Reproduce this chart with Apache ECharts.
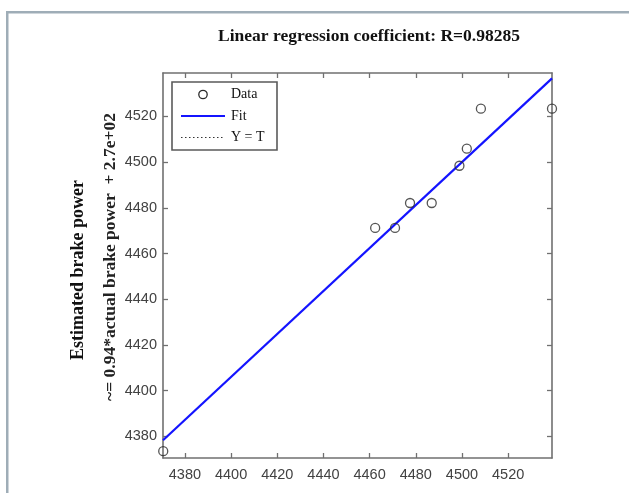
<!DOCTYPE html>
<html>
<head>
<meta charset="utf-8">
<script src="https://cdn.jsdelivr.net/npm/echarts@6/dist/echarts.min.js"></script>
<style>
  html, body { margin: 0; padding: 0; background: #ffffff; }
  #chart { width: 629px; height: 493px; }
</style>
</head>
<body>
<div id="chart"></div>
<script>
// Targets (actual brake power) and network outputs (estimated brake power)
const actualPower    = [4370.6, 4462.4, 4471.0, 4477.5, 4486.9, 4498.9, 4502.1, 4508.2, 4539.0];
const estimatedPower = [4373.5, 4471.2, 4471.2, 4482.1, 4482.1, 4498.4, 4505.9, 4523.4, 4523.4];

// Regression fit stated on the axis label: Y ~= 0.94*T + 2.7e+02
const fitSlope = 0.94;
const fitIntercept = 270;
const regressionR = '0.98285';

// Shared axis range and tick labels
const axisMin = 4370.5;
const axisMax = 4539.0;
const tickValues = [4380, 4400, 4420, 4440, 4460, 4480, 4500, 4520];

const scatterData = actualPower.map((t, i) => [t, estimatedPower[i]]);
const fitData = [axisMin, axisMax].map(t => [t, fitSlope * t + fitIntercept]);
const identityData = [[axisMin, axisMin], [axisMax, axisMax]];

const axisGray = '#707070';
const labelFont = { fontFamily: 'Liberation Sans, Arial, sans-serif', fontSize: 14.5, color: '#424242' };

function makeAxis(extra) {
  return Object.assign({
    type: 'value',
    min: axisMin,
    max: axisMax,
    splitLine: { show: false },
    axisLine: { show: true, onZero: false, lineStyle: { color: axisGray, width: 1.6 } },
    axisTick: { show: true, inside: true, length: 5, customValues: tickValues, lineStyle: { color: axisGray, width: 1.3 } }
  }, extra);
}

const chart = echarts.init(document.getElementById('chart'), null, { renderer: 'canvas' });

const legendLeft = 172, legendTop = 82;
const serif = 'Liberation Serif, Times New Roman, serif';

chart.setOption({
  animation: false,
  backgroundColor: '#ffffff',
  title: {
    text: 'Linear regression coefficient: R=' + regressionR,
    left: 364,
    textAlign: 'center',
    top: 22,
    textStyle: { fontFamily: serif, fontWeight: 'bold', fontSize: 17.5, color: '#111' }
  },
  grid: { left: 163, top: 73, width: 389, height: 385, containLabel: false },
  xAxis: [
    makeAxis({
      position: 'bottom',
      axisLabel: Object.assign({ show: true, margin: 9, customValues: tickValues, formatter: v => String(v) }, labelFont)
    }),
    makeAxis({ position: 'top', axisLabel: { show: false } })
  ],
  yAxis: [
    makeAxis({
      position: 'left',
      axisLabel: Object.assign({ show: true, margin: 6, customValues: tickValues, formatter: v => String(v) }, labelFont)
    }),
    makeAxis({ position: 'right', axisLabel: { show: false } })
  ],
  series: [
    {
      name: 'Y = T',
      type: 'line',
      data: identityData,
      showSymbol: false,
      silent: true,
      lineStyle: { color: '#000', width: 1, type: 'dotted', opacity: 0 },
      z: 1
    },
    {
      name: 'Fit',
      type: 'line',
      data: fitData,
      showSymbol: false,
      silent: true,
      lineStyle: { color: '#1414ff', width: 2.2 },
      z: 2
    },
    {
      name: 'Data',
      type: 'scatter',
      data: scatterData,
      symbol: 'circle',
      symbolSize: 9,
      itemStyle: { color: 'rgba(0,0,0,0)', borderColor: '#2a2a2a', borderWidth: 1.3 },
      z: 3
    }
  ],
  graphic: [
    // page frame
    { type: 'rect', shape: { x: 6, y: 11, width: 623, height: 2.5 }, style: { fill: '#9fadb7' } },
    { type: 'rect', shape: { x: 6, y: 11, width: 2.5, height: 482 }, style: { fill: '#9fadb7' } },
    // y axis titles
    {
      type: 'text', x: 78, y: 270, rotation: Math.PI / 2,
      style: { text: 'Estimated brake power', fontFamily: serif, fontWeight: 'bold', fontSize: 18,
               fill: '#111', align: 'center', verticalAlign: 'middle' }
    },
    {
      type: 'text', x: 110, y: 257, rotation: Math.PI / 2,
      style: { text: '~= 0.94*actual brake power  + 2.7e+02', fontFamily: serif, fontWeight: 'bold', fontSize: 17.5,
               fill: '#222', align: 'center', verticalAlign: 'middle' }
    },
    // legend
    {
      type: 'group', x: legendLeft, y: legendTop, z: 10,
      children: [
        { type: 'rect', shape: { x: 0, y: 0, width: 105, height: 68 },
          style: { fill: '#fff', stroke: '#5a5a5a', lineWidth: 1.6 } },
        { type: 'circle', shape: { cx: 31, cy: 12.5, r: 4.2 },
          style: { fill: 'none', stroke: '#2a2a2a', lineWidth: 1.3 } },
        { type: 'text', x: 59, y: 12.5,
          style: { text: 'Data', fontFamily: serif, fontSize: 14, fill: '#111', verticalAlign: 'middle' } },
        { type: 'line', shape: { x1: 9, y1: 34, x2: 53, y2: 34 },
          style: { stroke: '#1414ff', lineWidth: 2.2 } },
        { type: 'text', x: 59, y: 34,
          style: { text: 'Fit', fontFamily: serif, fontSize: 14, fill: '#111', verticalAlign: 'middle' } },
        { type: 'line', shape: { x1: 9, y1: 55.5, x2: 53, y2: 55.5 },
          style: { stroke: '#333', lineWidth: 1, lineDash: [1.5, 2.5] } },
        { type: 'text', x: 59, y: 55.5,
          style: { text: 'Y = T', fontFamily: serif, fontSize: 14, fill: '#111', verticalAlign: 'middle' } }
      ]
    }
  ]
});
</script>
</body>
</html>
